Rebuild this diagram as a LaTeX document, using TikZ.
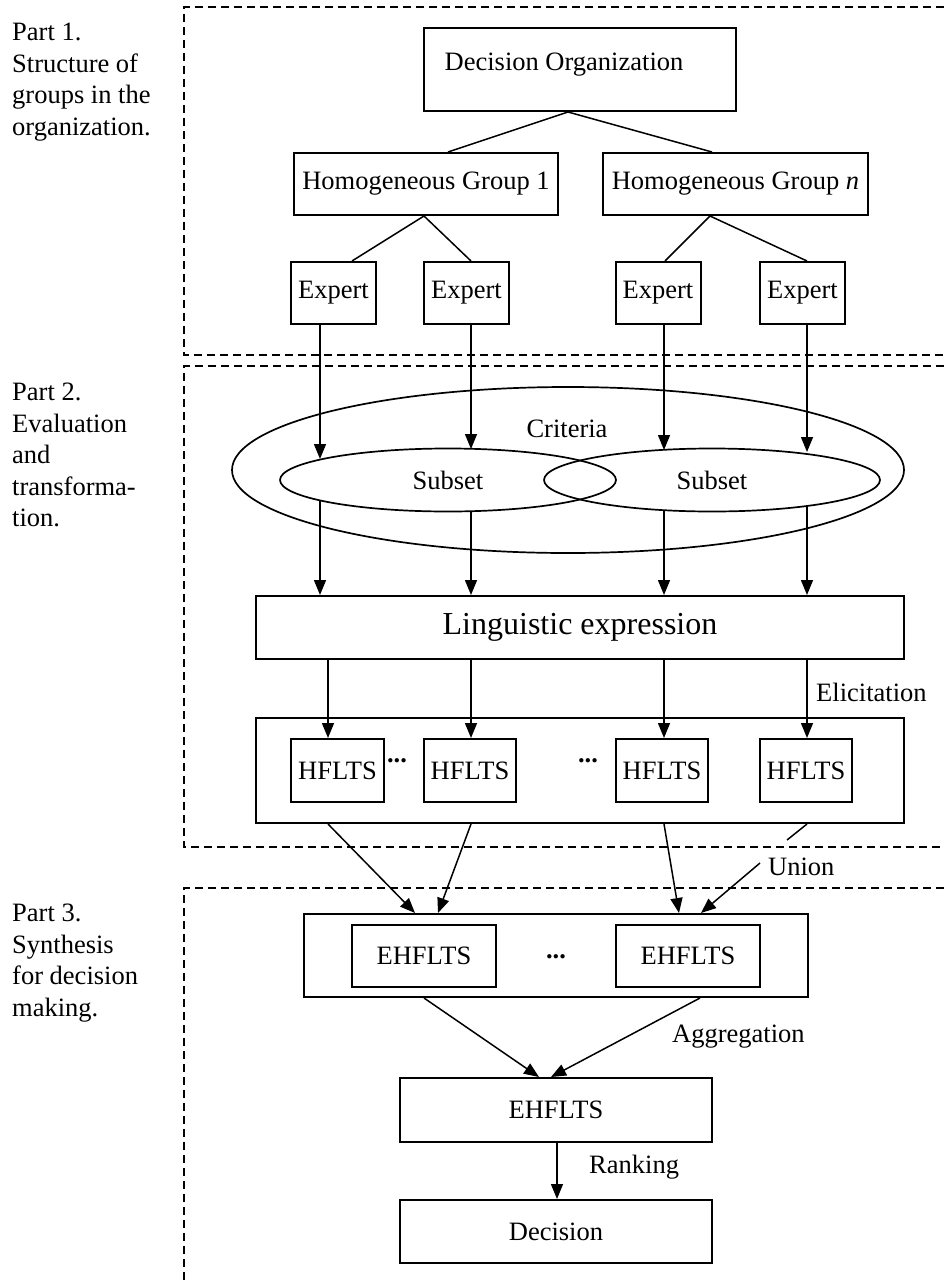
\documentclass[tikz,border=0pt]{standalone}
\usepackage{fontspec}
\setmainfont{Liberation Serif}
\usetikzlibrary{arrows.meta,shapes.geometric}
\begin{document}
\begin{tikzpicture}[x=1pt,y=-1pt,
  every node/.style={font=\fontsize{26.5}{31.5}\selectfont},
  box/.style={draw, line width=2pt, inner sep=0pt},
  oval/.style={draw, ellipse, line width=1.7pt, inner sep=0pt},
  conn/.style={line width=1.5pt},
  arr/.style={conn, -{Triangle[length=15pt,width=12pt]}},
  partframe/.style={line width=1.8pt, dash pattern=on 8pt off 5pt},
  lbl/.style={anchor=west, inner sep=0pt},
  parttext/.style={anchor=north west, inner sep=0pt, align=left},
  dotsnode/.style={anchor=base, inner sep=0pt, font=\fontsize{26.5}{31.5}\selectfont\bfseries}]
\useasboundingbox (0,0) rectangle (944,1285);

% part frames
\draw[partframe] (944,7) -- (184,7) -- (184,355) -- (944,355);
\draw[partframe] (944,366) -- (184,366) -- (184,847) -- (944,847);
\draw[partframe] (944,888) -- (184,888) -- (184,1285);

% part labels
\node[parttext] (p1) at (12,23) {Part 1.\\Structure of\\groups in the\\organization.};
\node[parttext] (p2) at (12,383) {Part 2.\\Evaluation\\and\\transforma-\\tion.};
\node[parttext] (p3) at (12,904) {Part 3.\\Synthesis\\for decision\\making.};

% part 1
\node[box, minimum width=312pt, minimum height=83pt] (do) at (580,69.5) {};
\node[inner sep=0pt] (dot) at (564,65) {Decision Organization};
\node[box, minimum width=264pt, minimum height=62pt] (hg1) at (426,184) {Homogeneous Group 1};
\node[box, minimum width=265pt, minimum height=62pt] (hgn) at (735.5,184) {Homogeneous Group \textit{n}};
\node[box, minimum width=85pt, minimum height=62pt] (e1) at (333.5,293) {Expert};
\node[box, minimum width=85pt, minimum height=62pt] (e2) at (466.5,293) {Expert};
\node[box, minimum width=85pt, minimum height=62pt] (e3) at (658,293) {Expert};
\node[box, minimum width=85pt, minimum height=62pt] (e4) at (802.5,293) {Expert};

\draw[conn] ([xshift=-12pt]do.south) -- ([xshift=22pt]hg1.north);
\draw[conn] ([xshift=-12pt]do.south) -- ([xshift=-23.5pt]hgn.north);
\draw[conn] ([xshift=-2pt]hg1.south) -- ([xshift=18.5pt]e1.north);
\draw[conn] ([xshift=-2pt]hg1.south) -- ([xshift=4.5pt]e2.north);
\draw[conn] ([xshift=-25.5pt]hgn.south) -- ([xshift=7pt]e3.north);
\draw[conn] ([xshift=-25.5pt]hgn.south) -- ([xshift=4.5pt]e4.north);

% part 2: criteria
\node[oval, minimum width=672pt, minimum height=166pt] (crit) at (568,470) {};
\node[inner sep=0pt] (critt) at (567,429) {Criteria};
\node[oval, minimum width=336pt, minimum height=63pt] (subl) at (448,480) {Subset};
\node[oval, minimum width=336pt, minimum height=63pt] (subr) at (712,480) {Subset};

\coordinate (t1) at (320,459);
\coordinate (t2) at (471,449);
\coordinate (t3) at (664,450);
\coordinate (t4) at (807,452);
\draw[arr] ([xshift=-13.5pt]e1.south) -- (t1);
\draw[arr] ([xshift=4.5pt]e2.south) -- (t2);
\draw[arr] ([xshift=6pt]e3.south) -- (t3);
\draw[arr] ([xshift=4.5pt]e4.south) -- (t4);

\node[box, minimum width=648pt, minimum height=63pt, font=\fontsize{32}{38}\selectfont] (le) at (580,627.5) {Linguistic expression};

\coordinate (s1) at (320,500);
\coordinate (s2) at (471,511);
\coordinate (s3) at (664,510);
\coordinate (s4) at (807,506);
\draw[arr] (s1) -- ([xshift=-260pt]le.north);
\draw[arr] (s2) -- ([xshift=-109pt]le.north);
\draw[arr] (s3) -- ([xshift=84pt]le.north);
\draw[arr] (s4) -- ([xshift=227pt]le.north);

% HFLTS
\node[box, minimum width=648pt, minimum height=105pt] (hout) at (580,770.5) {};
\node[box, minimum width=93pt, minimum height=63pt] (h1) at (337.5,770.5) {HFLTS};
\node[box, minimum width=92pt, minimum height=63pt] (h2) at (470,770.5) {HFLTS};
\node[box, minimum width=92pt, minimum height=63pt] (h3) at (662,770.5) {HFLTS};
\node[box, minimum width=92pt, minimum height=63pt] (h4) at (806,770.5) {HFLTS};
\node[dotsnode] (hd1) at (397,762) {...};
\node[dotsnode] (hd2) at (588,762) {...};

\draw[arr] ([xshift=-252pt]le.south) -- ([xshift=-9.5pt]h1.north);
\draw[arr] ([xshift=-109pt]le.south) -- ([xshift=1pt]h2.north);
\draw[arr] ([xshift=84pt]le.south) -- ([xshift=2pt]h3.north);
\draw[arr] ([xshift=227pt]le.south) -- ([xshift=1pt]h4.north);
\node[lbl] (elic) at (816,692) {Elicitation};

% part 3
\node[box, minimum width=504pt, minimum height=83pt] (ehout) at (556,955.5) {};
\node[box, minimum width=144pt, minimum height=62pt] (eh1) at (424,956) {EHFLTS};
\node[box, minimum width=144pt, minimum height=62pt] (eh2) at (688,956) {EHFLTS};
\node[dotsnode] (ehd) at (556,958) {...};

\coordinate (u1) at (787,840);
\coordinate (u2) at (760,863);
\draw[arr] ([xshift=-252pt]hout.south) -- ([xshift=-141pt]ehout.north);
\draw[arr] ([xshift=-109pt]hout.south) -- ([xshift=-118pt]ehout.north);
\draw[arr] ([xshift=84pt]hout.south) -- ([xshift=123pt]ehout.north);
\draw[conn] ([xshift=227pt]hout.south) -- (u1);
\draw[arr] (u2) -- ([xshift=145pt]ehout.north);
\node[lbl] (union) at (768,867) {Union};

\node[box, minimum width=312pt, minimum height=64pt] (ehf) at (556,1110) {EHFLTS};
\node[box, minimum width=312pt, minimum height=63pt] (dec) at (556,1231.5) {Decision};

\draw[arr] ([xshift=-132pt]ehout.south) -- ([xshift=-17pt]ehf.north);
\draw[arr] ([xshift=144pt]ehout.south) -- ([xshift=-5pt]ehf.north);
\node[lbl] (aggr) at (672,1037) {Aggregation};

\draw[arr] ([xshift=1pt]ehf.south) -- ([xshift=1pt]dec.north);
\node[lbl] (rank) at (589,1167) {Ranking};
\end{tikzpicture}
\end{document}
